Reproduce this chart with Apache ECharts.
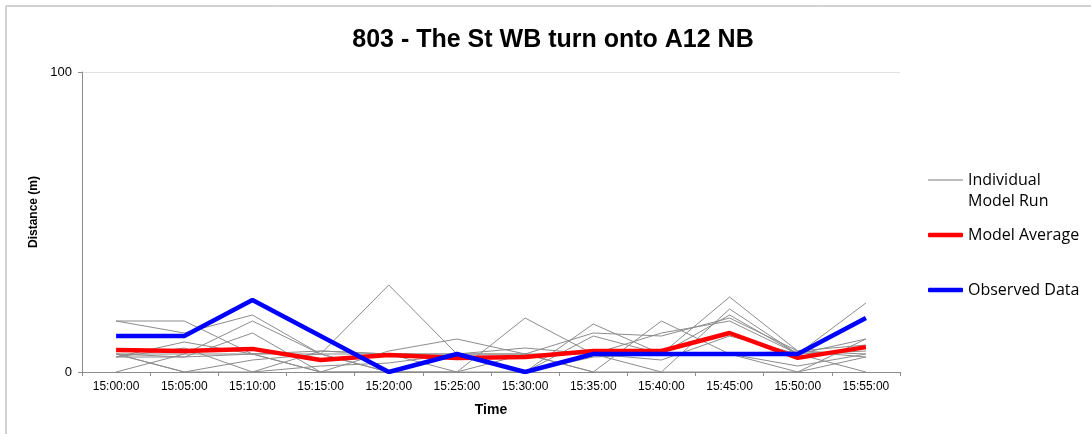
<!DOCTYPE html>
<html>
<head>
<meta charset="utf-8">
<script src="https://cdn.jsdelivr.net/npm/echarts@6/dist/echarts.min.js"></script>
<style>html,body{margin:0;padding:0;background:#fff}#c{width:1091px;height:434px}</style>
</head>
<body>
<div id="c"></div>
<script>
const categories = ['15:00:00','15:05:00','15:10:00','15:15:00','15:20:00','15:25:00','15:30:00','15:35:00','15:40:00','15:45:00','15:50:00','15:55:00'];
const run1  = [17,17,6,7,6,6,0,16,6,25,7,6];
const run2  = [17,13,19,6,0,0,18,6,0,21,6,23];
const run3  = [6,6,17,6,29,6,6,0,17,6,0,11];
const run4  = [6,5,13,0,7,11,6,13,12,18,7,5];
const run5  = [6,0,0,7,6,0,6,6,13,17,6,11];
const run6  = [5,5,6,0,0,6,0,12,6,19,6,0];
const run7  = [5,10,6,6,6,6,8,6,4,12,6,7];
const run8  = [5,8,0,2,3,6,0,6,6,6,2,6];
const run9  = [6,0,4,6,0,0,0,5,6,6,7,9];
const run10 = [0,6,6,0,0,6,6,0,0,0,0,5];
const modelAverage = [7.3,7,7.7,4,5.7,4.7,5,7,7,13,4.7,8.3];
const observedData = [12,12,24,12,0,6,0,6,6,6,6,18];
const yTicks = [0,100];

const runs = [run1,run2,run3,run4,run5,run6,run7,run8,run9,run10];
const RUN = 'Individual Model Run';
const font = 'Liberation Sans, Arial, sans-serif';

const series = runs.map(r => ({
  name: RUN, type: 'line', data: r, symbol: 'none', silent: true,
  lineStyle: {color: '#8c8c8c', width: 1}, itemStyle: {color: '#bdbdbd'}, z: 2
}));
series.push({name: 'Model Average', type: 'line', data: modelAverage, symbol: 'none',
  lineStyle: {color: '#ff0000', width: 4.5}, itemStyle: {color: '#ff0000'}, z: 3});
series.push({name: 'Observed Data', type: 'line', data: observedData, symbol: 'none',
  lineStyle: {color: '#0000ff', width: 4.5}, itemStyle: {color: '#0000ff'}, z: 4});

const legendText = {fontFamily: 'Open Sans, Liberation Sans, sans-serif', fontSize: 16, color: '#000', lineHeight: 21};
const legendBase = {
  orient: 'vertical', left: 928, padding: 0, itemWidth: 35, itemGap: 0, selectedMode: false,
  icon: 'roundRect', textStyle: legendText
};

const chart = echarts.init(document.getElementById('c'), null, {renderer: 'canvas'});
chart.setOption({
  animation: false,
  backgroundColor: '#fff',
  title: {
    text: '803 - The St WB turn onto A12 NB', left: 548, top: 23, textAlign: 'center',
    textStyle: {fontFamily: font, fontWeight: 'bold', fontSize: 25, color: '#000'}
  },
  graphic: [{type: 'rect', shape: {x: 6, y: 6, width: 2000, height: 2000}, style: {fill: 'none', stroke: '#a6a6a6', lineWidth: 1}, silent: true}],
  legend: [
    Object.assign({}, legendBase, {top: 148.5, itemHeight: 2, data: [RUN],
      formatter: () => ' \nIndividual\nModel Run'}),
    Object.assign({}, legendBase, {top: 224.5, itemHeight: 4.5, data: ['Model Average']}),
    Object.assign({}, legendBase, {top: 279.5, itemHeight: 4.5, data: ['Observed Data']})
  ],
  grid: {left: 82, right: 191, top: 72, bottom: 62, containLabel: false},
  xAxis: {
    type: 'category', data: categories, boundaryGap: true,
    name: 'Time', nameLocation: 'middle', nameGap: 31,
    nameTextStyle: {fontFamily: font, fontWeight: 'bold', fontSize: 14, color: '#000'},
    axisLine: {lineStyle: {color: '#8c8c8c', width: 1}},
    axisTick: {show: true, alignWithLabel: false, length: 4, lineStyle: {color: '#8c8c8c'}},
    axisLabel: {fontFamily: font, fontSize: 12, color: '#000', margin: 9, interval: 0},
    splitLine: {show: false}
  },
  yAxis: {
    type: 'value', min: yTicks[0], max: yTicks[1], interval: 100,
    name: 'Distance (m)', nameLocation: 'middle', nameGap: 41, nameRotate: 90,
    nameTextStyle: {fontFamily: font, fontWeight: 'bold', fontSize: 12, color: '#000', padding: [0, 0, 0, 20]},
    axisLine: {show: true, lineStyle: {color: '#8c8c8c', width: 1}},
    axisTick: {show: true, length: 4, lineStyle: {color: '#8c8c8c'}},
    axisLabel: {fontFamily: font, fontSize: 13, color: '#000', margin: 10},
    splitLine: {show: true, lineStyle: {color: '#e0e0e0', width: 1}}
  },
  series: series
});
</script>
</body>
</html>
